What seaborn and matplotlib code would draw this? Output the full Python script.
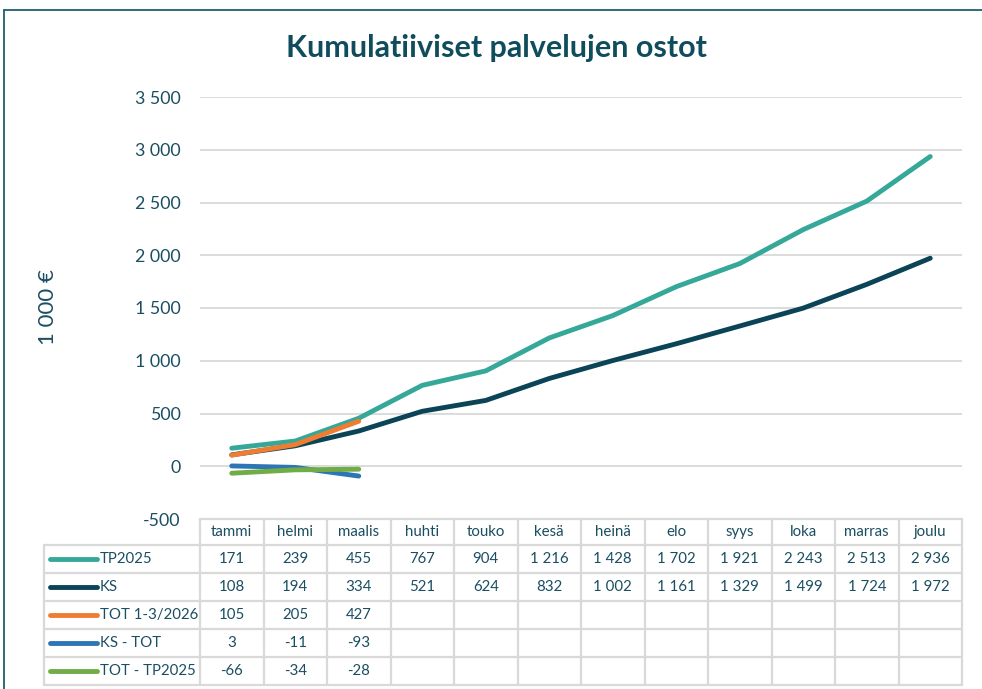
import matplotlib
matplotlib.use("Agg")
import matplotlib.pyplot as plt
import matplotlib.transforms as mtransforms
from matplotlib.lines import Line2D
import seaborn as sns
import pandas as pd

months = ["tammi", "helmi", "maalis", "huhti", "touko", "kesä",
          "heinä", "elo", "syys", "loka", "marras", "joulu"]
tp2025 = [171, 239, 455, 767, 904, 1216, 1428, 1702, 1921, 2243, 2513, 2936]
ks = [108, 194, 334, 521, 624, 832, 1002, 1161, 1329, 1499, 1724, 1972]
tot = [105, 205, 427]
ks_tot = [3, -11, -93]
tot_tp = [-66, -34, -28]

series_names = ["TP2025", "KS", "TOT 1-3/2026", "KS - TOT", "TOT - TP2025"]
series_values = [tp2025, ks, tot, ks_tot, tot_tp]
colors = ["#35A899", "#0C4457", "#EE7D33", "#2E75B6", "#70AD47"]
y_ticks = [-500, 0, 500, 1000, 1500, 2000, 2500, 3000, 3500]

title = "Kumulatiiviset palvelujen ostot"
ylabel = "1 000 €"

sns.set_theme(style="white")
plt.rcParams['font.family'] = ['Lato', 'DejaVu Sans']
txt = "#1A4E61"
grid_c = "#D9D9D9"

W, H = 982, 689
fig = plt.figure(figsize=(W / 100, H / 100), dpi=100)
fig.patch.set_facecolor("white")


def fx(x):
    return x / W


def fy(y):
    return 1 - y / H


ax = fig.add_axes([fx(200), fy(519), (962 - 200) / W, (519 - 97) / H])

rows = []
for name, vals in zip(series_names, series_values):
    for i, v in enumerate(vals):
        rows.append({"series": name, "x": i, "value": v})
df = pd.DataFrame(rows)

sns.lineplot(data=df, x="x", y="value", hue="series", hue_order=series_names,
             palette=colors, linewidth=3.5, ax=ax, legend=False, sort=False)
for l in ax.get_lines():
    l.set_solid_capstyle("round")
    l.set_solid_joinstyle("round")

ax.set_xlim(-0.5, len(months) - 0.5)
ax.set_ylim(y_ticks[0], y_ticks[-1])
ax.set_yticks(y_ticks)
ax.set_yticklabels([f"{t:,}".replace(",", " ") for t in y_ticks],
                   fontsize=12.8, color=txt)
ax.tick_params(axis="y", length=0, pad=14)
ax.set_xticks([])
ax.set_xlabel("")
ax.set_ylabel("")
for s in ax.spines.values():
    s.set_visible(False)
ax.grid(axis="y", color=grid_c, linewidth=1.3)
ax.set_axisbelow(True)

fig.text(fx(496), fy(48), title, ha="center", va="center", fontsize=22,
         fontweight="bold", color="#0F4C5C")
fig.text(fx(48), fy(307), ylabel, ha="center", va="center", rotation=90,
         fontsize=16, color=txt)

# outer frame (top and left edges visible)
frame_c = "#1F5F6E"
fig.add_artist(Line2D([fx(4), 1.0], [fy(10), fy(10)], transform=fig.transFigure,
                      color=frame_c, linewidth=1.3))
fig.add_artist(Line2D([fx(4), fx(4)], [fy(10), 0.0], transform=fig.transFigure,
                      color=frame_c, linewidth=1.3))

# data table
blend = mtransforms.blended_transform_factory(ax.transData, fig.transFigure)
row_edges = [519, 545, 573, 601, 629, 657, 685]
n = len(months)
lw_t = 1.6

for i in range(n + 1):
    xv = i - 0.5
    fig.add_artist(Line2D([xv, xv], [fy(row_edges[0]), fy(row_edges[-1])],
                          transform=blend, color=grid_c, linewidth=lw_t))
fig.add_artist(Line2D([-0.5, n - 0.5], [fy(row_edges[0])] * 2,
                      transform=blend, color=grid_c, linewidth=lw_t))
x_left = fx(43.5)
x_right = fx(962)
for ry in row_edges[1:]:
    fig.add_artist(Line2D([x_left, x_right], [fy(ry)] * 2,
                          transform=fig.transFigure, color=grid_c,
                          linewidth=lw_t))
fig.add_artist(Line2D([x_left, x_left], [fy(row_edges[1]), fy(row_edges[-1])],
                      transform=fig.transFigure, color=grid_c, linewidth=lw_t))

hy = fy((row_edges[0] + row_edges[1]) / 2)
for i, m in enumerate(months):
    fig.text(i, hy, m, transform=blend, ha="center", va="center",
             fontsize=10.8, color=txt)

for r, (name, vals, c) in enumerate(zip(series_names, series_values, colors)):
    yc = fy((row_edges[r + 1] + row_edges[r + 2]) / 2)
    fig.add_artist(Line2D([fx(50), fx(97)], [yc, yc], transform=fig.transFigure,
                          color=c, linewidth=3.5, solid_capstyle="round"))
    fig.text(fx(100), yc, name, ha="left", va="center", fontsize=10.8,
             color=txt)
    for i, v in enumerate(vals):
        fig.text(i, yc, f"{v:,}".replace(",", " "), transform=blend,
                 ha="center", va="center", fontsize=10.8, color=txt)

fig.savefig("out.png", dpi=100)
